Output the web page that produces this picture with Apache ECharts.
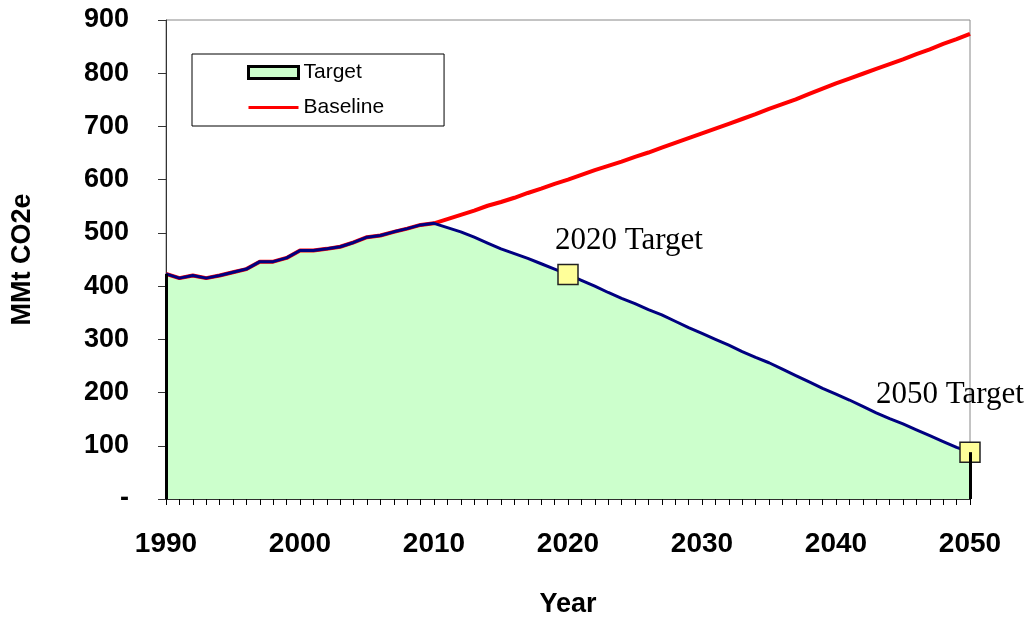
<!DOCTYPE html>
<html>
<head>
<meta charset="utf-8">
<script src="https://cdn.jsdelivr.net/npm/echarts@6/dist/echarts.min.js"></script>
<style>
html,body{margin:0;padding:0;background:#fff;}
#chart{width:1026px;height:621px;}
</style>
</head>
<body>
<div id="chart"></div>
<script>
var years = ['1990','1991','1992','1993','1994','1995','1996','1997','1998','1999',
  '2000','2001','2002','2003','2004','2005','2006','2007','2008','2009',
  '2010','2011','2012','2013','2014','2015','2016','2017','2018','2019',
  '2020','2021','2022','2023','2024','2025','2026','2027','2028','2029',
  '2030','2031','2032','2033','2034','2035','2036','2037','2038','2039',
  '2040','2041','2042','2043','2044','2045','2046','2047','2048','2049','2050'];

// historical emissions 1990-2010 (shared by both series)
var historical = [423,415,420,415,420,426,432,446,446,453,467,467,470,474,482,492,495,502,508,515,518];
// target path 2011-2050
var targetFuture = [510,502,492,481,470,461,452,442,432,422,
  411,400,388,377,367,356,346,334,322,311,
  300,289,277,266,256,244,232,220,208,197,
  186,174,162,151,141,130,119,108,97,88];
// baseline projection 2011-2050
var baselineFuture = [526,534,542,551,558,566,575,583,592,600,
  609,618,626,634,643,651,660,669,678,687,
  696,705,714,723,733,742,751,761,771,781,
  790,799,808,817,826,836,845,855,864,874];

var yTicks = [0,100,200,300,400,500,600,700,800,900];
var targetMarks = [{year:'2020', text:'2020 Target'}, {year:'2050', text:'2050 Target'}];

var target = historical.concat(targetFuture);
var baseline = historical.concat(baselineFuture);

var labelOffsets = {'2020':[61,-34], '2050':[-20,-57]};
var markData = targetMarks.map(function(m){
  var i = years.indexOf(m.year);
  return {value:[m.year, target[i]], name:m.text,
    label:{offset: labelOffsets[m.year]}};
});

var chart = echarts.init(document.getElementById('chart'));
chart.setOption({
  animation:false,
  grid:{left:166, right:56, top:20, bottom:122, outerBoundsMode:'none', containLabel:false,
    show:true, borderColor:'#888', borderWidth:1, backgroundColor:'transparent'},
  legend:{
    data:[
      {name:'Target', icon:'rect', itemStyle:{color:'#CCFFCC', borderColor:'#000', borderWidth:3}},
      {name:'Baseline', itemStyle:{opacity:0}, lineStyle:{color:'#FF0000', width:3}}
    ],
    orient:'vertical', left:192, top:54,
    padding:[8,60,8,55],
    itemGap:14, itemWidth:50, itemHeight:12,
    backgroundColor:'#fff', borderColor:'#000', borderWidth:1, borderRadius:0,
    textStyle:{fontFamily:'Liberation Sans, Arial, sans-serif', fontSize:21, color:'#000', padding:[0,0,0,0]}
  },
  xAxis:{
    type:'category', data:years, boundaryGap:false,
    name:'Year', nameLocation:'middle', nameGap:92,
    nameTextStyle:{fontFamily:'Liberation Sans Narrow, Arial Narrow, Liberation Sans, sans-serif', fontWeight:'bold', fontSize:27, color:'#000'},
    axisLine:{lineStyle:{color:'#000', width:1.5}},
    axisTick:{show:true, interval:0, length:6, lineStyle:{color:'#000'}},
    axisLabel:{interval:9, margin:31, fontFamily:'Liberation Sans Narrow, Arial Narrow, Liberation Sans, sans-serif', fontWeight:'bold', fontSize:28, color:'#000'},
    splitLine:{show:false}
  },
  yAxis:{
    type:'value', min:0, max:900, interval:100,
    name:'MMt CO2e', nameLocation:'middle', nameGap:130, nameRotate:90,
    nameTextStyle:{fontFamily:'Liberation Sans, Arial, sans-serif', fontWeight:'bold', fontSize:27, color:'#000'},
    axisLine:{show:true, lineStyle:{color:'#333', width:1}},
    axisTick:{show:true, length:8, lineStyle:{color:'#333'}},
    axisLabel:{margin:37, fontFamily:'Liberation Sans, Arial, sans-serif', fontWeight:'bold', fontSize:27, color:'#000',
      formatter:function(v){ return v === 0 ? '-' : String(v); }},
    splitLine:{show:false}
  },
  series:[
    {
      name:'Target', type:'line', data:target, z:1,
      showSymbol:false, symbol:'none', silent:true,
      lineStyle:{opacity:0, width:0},
      itemStyle:{color:'#CCFFCC'},
      areaStyle:{color:'#CCFFCC', opacity:1},
      markLine:{
        silent:true, symbol:'none', label:{show:false},
        lineStyle:{color:'#000', width:3, type:'solid'},
        data:[
          [{coord:[years[0],0]},{coord:[years[0],target[0]]}],
          [{coord:[years[years.length-1],0]},{coord:[years[years.length-1],target[target.length-1]]}]
        ]
      }
    },
    {
      name:'Baseline', type:'line', data:baseline, z:2,
      showSymbol:false, symbol:'none', silent:true,
      lineStyle:{color:'#FF0000', width:4},
      itemStyle:{color:'#FF0000'}
    },
    {
      name:'TargetLine', type:'line', data:target, z:3,
      showSymbol:false, symbol:'none', silent:true,
      lineStyle:{color:'#000080', width:3},
      itemStyle:{color:'#000080'}
    },
    {
      name:'Targets', type:'scatter', data:markData, z:4,
      symbol:'rect', symbolSize:20, silent:true,
      itemStyle:{color:'#FFFF99', borderColor:'#222', borderWidth:1.5, opacity:1},
      label:{show:true, position:'inside', align:'center', verticalAlign:'middle',
        formatter:function(p){ return p.name; },
        fontFamily:'Liberation Serif, Times New Roman, serif', fontSize:31, color:'#000'}
    }
  ]
});
</script>
</body>
</html>
